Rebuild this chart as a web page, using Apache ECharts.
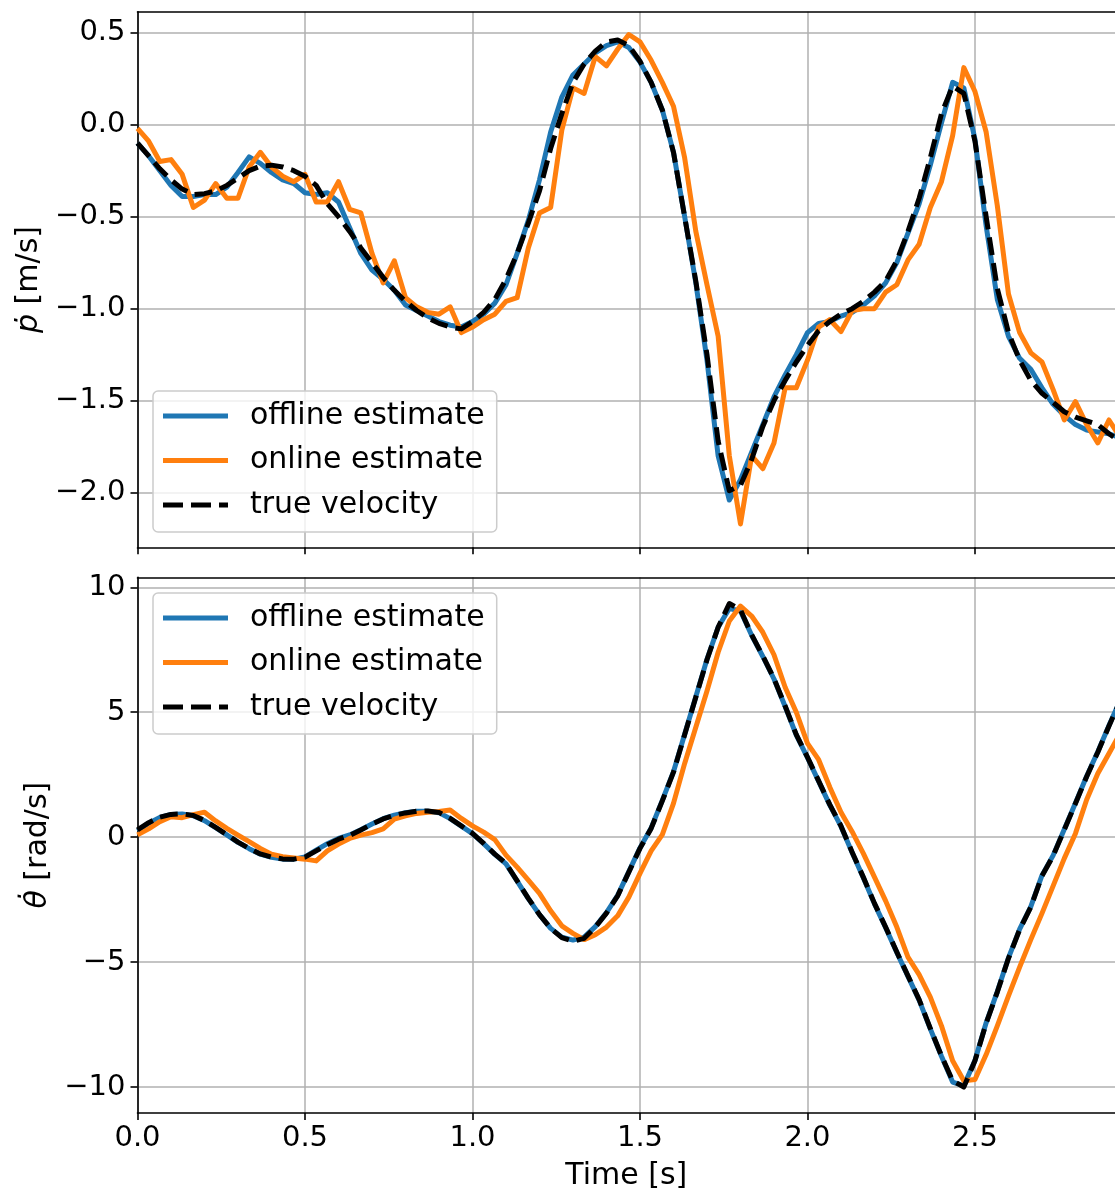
<!DOCTYPE html>
<html><head><meta charset="utf-8">
<script src="https://cdn.jsdelivr.net/npm/echarts@6/dist/echarts.min.js"></script>
<style>html,body{margin:0;padding:0;background:#fff}#c{width:1115px;height:1194px}</style>
</head><body><div id="c"></div>
<script>
// sampling interval of the recorded data [s]
const dt = 1 / 30;

// ---- top panel: linear velocity p-dot [m/s] ----
const pOffline = [-0.10,-0.17,-0.25,-0.33,-0.39,-0.39,-0.38,-0.38,-0.34,-0.26,-0.175,-0.21,-0.26,-0.30,-0.32,-0.37,-0.38,-0.37,-0.42,-0.56,
  -0.70,-0.79,-0.84,-0.90,-0.98,-1.01,-1.04,-1.07,-1.09,-1.10,-1.07,-1.03,-0.97,-0.87,-0.70,-0.52,-0.30,-0.04,0.15,0.27,
  0.33,0.39,0.43,0.45,0.42,0.34,0.23,0.08,-0.15,-0.50,-0.86,-1.28,-1.80,-2.04,-1.93,-1.78,-1.63,-1.48,-1.36,-1.25,
  -1.13,-1.08,-1.07,-1.04,-1.02,-0.98,-0.93,-0.86,-0.75,-0.59,-0.43,-0.22,0.01,0.23,0.20,-0.08,-0.55,-0.95,-1.15,-1.27,
  -1.33,-1.43,-1.52,-1.58,-1.63,-1.66,-1.67,-1.68,-1.70];
const pOnline = [-0.02,-0.09,-0.20,-0.19,-0.27,-0.45,-0.41,-0.32,-0.40,-0.40,-0.23,-0.15,-0.23,-0.28,-0.31,-0.27,-0.42,-0.42,-0.31,-0.46,
  -0.48,-0.70,-0.86,-0.74,-0.94,-0.99,-1.02,-1.03,-0.99,-1.13,-1.10,-1.06,-1.03,-0.96,-0.94,-0.67,-0.48,-0.45,-0.03,0.20,
  0.17,0.37,0.32,0.41,0.49,0.45,0.35,0.23,0.10,-0.18,-0.58,-0.87,-1.15,-1.80,-2.17,-1.80,-1.87,-1.73,-1.43,-1.43,
  -1.28,-1.10,-1.06,-1.125,-1.01,-1.00,-1.00,-0.91,-0.87,-0.735,-0.65,-0.45,-0.31,-0.06,0.31,0.18,-0.04,-0.44,-0.92,-1.13,
  -1.24,-1.29,-1.44,-1.605,-1.505,-1.63,-1.73,-1.605,-1.70];
const pTrue = [-0.10,-0.17,-0.24,-0.30,-0.35,-0.38,-0.375,-0.36,-0.33,-0.29,-0.25,-0.225,-0.22,-0.23,-0.25,-0.28,-0.33,-0.43,-0.50,-0.58,
  -0.67,-0.75,-0.83,-0.90,-0.96,-1.01,-1.05,-1.08,-1.10,-1.11,-1.07,-1.02,-0.95,-0.84,-0.70,-0.535,-0.36,-0.13,0.06,0.23,
  0.33,0.40,0.45,0.46,0.43,0.345,0.23,0.08,-0.15,-0.50,-0.85,-1.25,-1.72,-1.99,-1.96,-1.82,-1.64,-1.50,-1.39,-1.29,
  -1.20,-1.12,-1.07,-1.03,-1.00,-0.96,-0.91,-0.85,-0.74,-0.58,-0.40,-0.18,0.06,0.21,0.17,-0.09,-0.50,-0.89,-1.13,-1.28,
  -1.39,-1.46,-1.51,-1.56,-1.59,-1.61,-1.63,-1.68,-1.72];

// ---- bottom panel: angular velocity theta-dot [rad/s] ----
const thTrue = [0.29,0.58,0.80,0.91,0.93,0.87,0.67,0.39,0.10,-0.20,-0.45,-0.67,-0.80,-0.87,-0.88,-0.80,-0.55,-0.30,-0.08,0.07,
  0.29,0.52,0.73,0.87,0.97,1.04,1.05,0.99,0.75,0.45,0.15,-0.25,-0.68,-1.05,-1.75,-2.45,-3.10,-3.65,-4.02,-4.17,
  -4.05,-3.60,-3.04,-2.35,-1.40,-0.45,0.35,1.45,2.60,4.10,5.60,7.10,8.40,9.35,9.10,8.10,7.25,6.35,5.25,4.10,
  3.20,2.25,1.30,0.45,-0.60,-1.60,-2.65,-3.60,-4.60,-5.55,-6.50,-7.65,-8.75,-9.75,-10.0,-8.95,-7.45,-6.20,-4.85,-3.70,
  -2.80,-1.55,-0.75,0.30,1.35,2.42,3.40,4.45,5.45];
const thOffline = [0.25,0.56,0.79,0.91,0.93,0.86,0.66,0.38,0.09,-0.21,-0.46,-0.68,-0.81,-0.88,-0.88,-0.79,-0.52,-0.26,-0.05,0.09,
  0.30,0.53,0.74,0.88,0.98,1.04,1.04,0.98,0.74,0.44,0.14,-0.26,-0.69,-1.07,-1.76,-2.46,-3.10,-3.65,-4.00,-4.12,
  -4.00,-3.58,-3.02,-2.33,-1.38,-0.43,0.37,1.47,2.62,4.12,5.62,7.12,8.40,9.15,9.05,8.08,7.23,6.33,5.23,4.08,
  3.18,2.23,1.28,0.43,-0.62,-1.62,-2.67,-3.62,-4.62,-5.57,-6.52,-7.67,-8.77,-9.80,-9.95,-8.93,-7.43,-6.18,-4.83,-3.68,
  -2.78,-1.53,-0.73,0.32,1.37,2.44,3.42,4.47,5.47];
const thOnline = [0.09,0.33,0.62,0.82,0.78,0.90,1.00,0.65,0.35,0.08,-0.18,-0.45,-0.68,-0.78,-0.83,-0.88,-0.95,-0.55,-0.28,-0.05,
  0.08,0.18,0.33,0.72,0.85,0.95,1.00,1.03,1.09,0.75,0.45,0.20,-0.10,-0.72,-1.20,-1.72,-2.25,-2.95,-3.55,-3.85,
  -4.10,-3.90,-3.60,-3.15,-2.40,-1.45,-0.55,0.10,1.35,2.95,4.40,5.85,7.40,8.65,9.25,8.85,8.20,7.30,6.00,5.00,
  3.75,3.10,2.00,1.00,0.22,-0.65,-1.60,-2.55,-3.60,-4.80,-5.50,-6.40,-7.55,-8.95,-9.75,-9.70,-8.70,-7.55,-6.35,-5.20,
  -4.10,-3.05,-1.95,-0.85,0.15,1.50,2.55,3.35,4.15];

// tick labels
const xTicks = [0, 0.5, 1.0, 1.5, 2.0, 2.5];
const pTicks = [-2.0, -1.5, -1.0, -0.5, 0.0, 0.5];
const thTicks = [-10, -5, 0, 5, 10];
const seriesNames = ['offline estimate', 'online estimate', 'true velocity'];

const times = pTrue.map((_, k) => +(k * dt).toFixed(5));
const pair = arr => arr.map((v, k) => [times[k], v]);
const minus = s => String(s).replace('-', '\u2212');

const FONT = 'DejaVu Sans';
const FS = 29;      // tick labels
const FS_L = 30;    // legend + axis names
const XMAX = 2.918;
const grids = [
  { left: 137.5, top: 11.7, right: 0, height: 535.6 },
  { left: 137.5, top: 577.3, right: 0, height: 535.7 }
];
const axisLine = { show: true, onZero: false, lineStyle: { color: '#000', width: 1.6 } };
const tick = { show: true, inside: false, length: 7, lineStyle: { color: '#000', width: 1.6 } };
const split = { show: true, lineStyle: { color: '#b0b0b0', width: 1.5 } };
const lbl = { color: '#000', fontFamily: FONT, fontSize: FS };
const nameStyle = { color: '#000', fontFamily: FONT, fontSize: FS_L };

function xAxisMain(g, showLabels) {
  return {
    type: 'value', gridIndex: g, min: 0, max: XMAX, interval: 0.5,
    axisLine, axisTick: Object.assign({ customValues: xTicks }, tick), splitLine: split,
    axisLabel: Object.assign({ show: showLabels, margin: 11, customValues: xTicks, formatter: v => v.toFixed(1) }, lbl),
    name: showLabels ? 'Time [s]' : '', nameLocation: 'middle', nameGap: 48,
    nameTextStyle: nameStyle
  };
}
function xAxisTop(g) {
  return {
    type: 'value', gridIndex: g, position: 'top', min: 0, max: XMAX,
    axisLine, axisTick: { show: false }, splitLine: { show: false }, axisLabel: { show: false }
  };
}
function yAxis(g, min, max, ticks, dec, name) {
  return {
    type: 'value', gridIndex: g, min, max,
    axisLine, axisTick: Object.assign({ customValues: ticks }, tick), splitLine: split,
    axisLabel: Object.assign({ margin: 12, customValues: ticks, formatter: v => minus(v.toFixed(dec)) }, lbl),
    name, nameLocation: 'middle', nameGap: 83,
    nameTextStyle: Object.assign({ rich: { i: { fontStyle: 'italic', fontFamily: FONT, fontSize: FS_L, color: '#000' } } }, nameStyle)
  };
}
const colors = ['#1f77b4', '#ff7f0e', '#000000'];
function mkSeries(xi, yi, data, idx) {
  const dashed = idx === 2;
  return {
    type: 'line', name: seriesNames[idx], xAxisIndex: xi, yAxisIndex: yi,
    data: pair(data), symbol: 'none', showSymbol: false, clip: true, z: 2 + idx,
    lineStyle: { color: colors[idx], width: 5, type: dashed ? [18, 8] : 'solid', cap: 'butt', join: 'round' },
    itemStyle: { color: colors[idx] }
  };
}
const dashIcon = 'path://M0 0h20v5h-20z M28 0h20v5h-20z M56 0h9v5h-9z';
function mkLegend(top) {
  return {
    orient: 'vertical', left: 153, top,
    itemWidth: 65, itemHeight: 5, itemGap: 14.5,
    padding: [10, 12, 12, 10],
    borderColor: '#cccccc', borderWidth: 1.5, borderRadius: 5,
    backgroundColor: 'rgba(255,255,255,0.8)',
    textStyle: { color: '#000', fontFamily: FONT, fontSize: FS_L, padding: [0, 0, 0, 17] },
    data: [
      { name: seriesNames[0], icon: 'rect', itemStyle: { color: colors[0] } },
      { name: seriesNames[1], icon: 'rect', itemStyle: { color: colors[1] } },
      { name: seriesNames[2], icon: dashIcon, itemStyle: { color: colors[2] } }
    ]
  };
}

const chart = echarts.init(document.getElementById('c'), null, { renderer: 'canvas' });
chart.setOption({
  animation: false,
  backgroundColor: '#ffffff',
  grid: grids,
  xAxis: [xAxisMain(0, false), xAxisTop(0), xAxisMain(1, true), xAxisTop(1)],
  yAxis: [
    yAxis(0, -2.297, 0.614, pTicks, 1, '{i|\u1e57} [m/s]'),
    yAxis(1, -11.04, 10.4, thTicks, 0, '{i|\u03b8\u0307} [rad/s]')
  ],
  legend: [mkLegend(391), mkLegend(593)],
  series: [
    mkSeries(0, 0, pOffline, 0), mkSeries(0, 0, pOnline, 1), mkSeries(0, 0, pTrue, 2),
    mkSeries(2, 1, thOffline, 0), mkSeries(2, 1, thOnline, 1), mkSeries(2, 1, thTrue, 2)
  ]
});
</script></body></html>
